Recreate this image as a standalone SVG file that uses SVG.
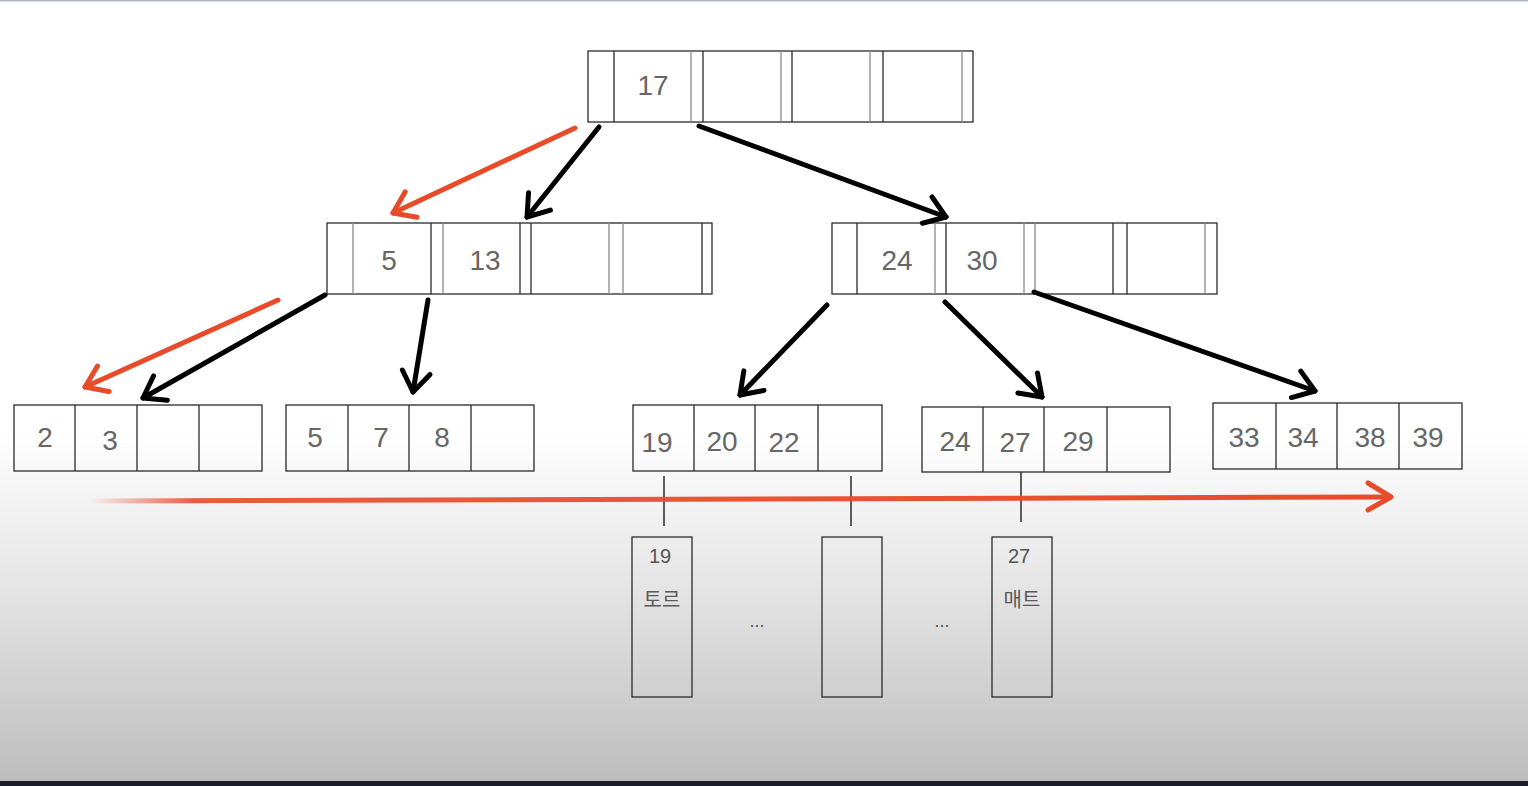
<svg xmlns="http://www.w3.org/2000/svg" width="1528" height="786" viewBox="0 0 1528 786">
<defs>
<linearGradient id="bg" x1="0" y1="0" x2="0" y2="786" gradientUnits="userSpaceOnUse">
<stop offset="0" stop-color="#ffffff"/>
<stop offset="0.55" stop-color="#ffffff"/>
<stop offset="0.75" stop-color="#e4e4e4"/>
<stop offset="1" stop-color="#bcbcbc"/>
</linearGradient>
<linearGradient id="redfade" x1="90" y1="0" x2="1392" y2="0" gradientUnits="userSpaceOnUse">
<stop offset="0" stop-color="#e84b2a" stop-opacity="0"/>
<stop offset="0.08" stop-color="#e84b2a" stop-opacity="0.9"/>
<stop offset="1" stop-color="#e84b2a"/>
</linearGradient>
<marker id="chevK" markerUnits="userSpaceOnUse" markerWidth="40" markerHeight="40" viewBox="-24 -20 28 40" refX="0" refY="0" orient="auto">
<path d="M-20,-14 L0,0 L-20,14" fill="none" stroke="#000" stroke-width="5" stroke-linecap="round" stroke-linejoin="round"/>
</marker>
<marker id="chevR" markerUnits="userSpaceOnUse" markerWidth="40" markerHeight="40" viewBox="-24 -20 28 40" refX="0" refY="0" orient="auto">
<path d="M-20,-14 L0,0 L-20,14" fill="none" stroke="#e84b2a" stroke-width="5" stroke-linecap="round" stroke-linejoin="round"/>
</marker>
</defs>
<style>
.box{fill:none;stroke:#2a2a2a;stroke-width:1.3}
.sep{stroke:#2a2a2a;stroke-width:1.3}
.sepg{stroke:#8a8a8a;stroke-width:1.3}
.key{font-family:"Liberation Sans",Arial,sans-serif;font-size:28px;fill:#666666;text-anchor:middle}
.rec{font-family:"Liberation Sans","Noto Sans CJK KR",sans-serif;font-size:20px;fill:#555555;text-anchor:middle}
.ko{font-family:"Noto Sans CJK KR","Noto Sans",sans-serif;font-size:20px;fill:#5a5a5a;text-anchor:middle}
.dots{font-family:"Liberation Sans",Arial,sans-serif;font-size:18px;fill:#555;text-anchor:middle}
.blk{stroke:#000;stroke-width:5;stroke-linecap:round;fill:none}
.red{stroke:#e84b2a;stroke-width:5;stroke-linecap:round;fill:none}
.tick{stroke:#2a2a2a;stroke-width:1.5}
</style>
<rect x="0" y="0" width="1528" height="786" fill="url(#bg)"/>
<rect x="0" y="0" width="1528" height="1.5" fill="#b4b8c0"/>
<rect x="0" y="781" width="1528" height="5" fill="#1b1d2b"/>

<g id="root">
<rect class="box" x="588" y="51" width="385" height="71"/>
<line class="sep" x1="614" y1="51" x2="614" y2="122"/>
<line class="sepg" x1="691" y1="51" x2="691" y2="122"/>
<line class="sep" x1="703" y1="51" x2="703" y2="122"/>
<line class="sepg" x1="781" y1="51" x2="781" y2="122"/>
<line class="sep" x1="792" y1="51" x2="792" y2="122"/>
<line class="sepg" x1="870" y1="51" x2="870" y2="122"/>
<line class="sep" x1="883" y1="51" x2="883" y2="122"/>
<line class="sepg" x1="962" y1="51" x2="962" y2="122"/>
<text class="key" x="653" y="95">17</text>
</g>

<g id="inner-left">
<rect class="box" x="327" y="223" width="385" height="71"/>
<line class="sepg" x1="353" y1="223" x2="353" y2="294"/>
<line class="sep" x1="431" y1="223" x2="431" y2="294"/>
<line class="sepg" x1="443" y1="223" x2="443" y2="294"/>
<line class="sep" x1="520" y1="223" x2="520" y2="294"/>
<line class="sep" x1="531" y1="223" x2="531" y2="294"/>
<line class="sepg" x1="609" y1="223" x2="609" y2="294"/>
<line class="sepg" x1="623" y1="223" x2="623" y2="294"/>
<line class="sep" x1="702" y1="223" x2="702" y2="294"/>
<text class="key" x="389" y="270">5</text>
<text class="key" x="485" y="270">13</text>
</g>

<g id="inner-right">
<rect class="box" x="832" y="223" width="385" height="71"/>
<line class="sep" x1="857" y1="223" x2="857" y2="294"/>
<line class="sepg" x1="935" y1="223" x2="935" y2="294"/>
<line class="sep" x1="946" y1="223" x2="946" y2="294"/>
<line class="sepg" x1="1024" y1="223" x2="1024" y2="294"/>
<line class="sepg" x1="1035" y1="223" x2="1035" y2="294"/>
<line class="sep" x1="1113" y1="223" x2="1113" y2="294"/>
<line class="sep" x1="1127" y1="223" x2="1127" y2="294"/>
<line class="sepg" x1="1205" y1="223" x2="1205" y2="294"/>
<text class="key" x="897" y="270">24</text>
<text class="key" x="982" y="270">30</text>
</g>

<g id="leaf-1">
<rect class="box" x="14" y="405" width="248" height="66"/>
<line class="sep" x1="75" y1="405" x2="75" y2="471"/>
<line class="sep" x1="137" y1="405" x2="137" y2="471"/>
<line class="sep" x1="199" y1="405" x2="199" y2="471"/>
<text class="key" x="45" y="447">2</text>
<text class="key" x="110" y="450">3</text>
</g>

<g id="leaf-2">
<rect class="box" x="286" y="405" width="248" height="66"/>
<line class="sep" x1="348" y1="405" x2="348" y2="471"/>
<line class="sep" x1="409" y1="405" x2="409" y2="471"/>
<line class="sep" x1="471" y1="405" x2="471" y2="471"/>
<text class="key" x="315" y="447">5</text>
<text class="key" x="381" y="447">7</text>
<text class="key" x="442" y="447">8</text>
</g>

<g id="leaf-3">
<rect class="box" x="633" y="405" width="249" height="66"/>
<line class="sep" x1="694" y1="405" x2="694" y2="471"/>
<line class="sep" x1="755" y1="405" x2="755" y2="471"/>
<line class="sep" x1="818" y1="405" x2="818" y2="471"/>
<text class="key" x="657" y="452">19</text>
<text class="key" x="722" y="451">20</text>
<text class="key" x="784" y="452">22</text>
</g>

<g id="leaf-4">
<rect class="box" x="922" y="407" width="248" height="65"/>
<line class="sep" x1="983" y1="407" x2="983" y2="472"/>
<line class="sep" x1="1044" y1="407" x2="1044" y2="472"/>
<line class="sep" x1="1107" y1="407" x2="1107" y2="472"/>
<text class="key" x="955" y="451">24</text>
<text class="key" x="1015" y="452">27</text>
<text class="key" x="1078" y="451">29</text>
</g>

<g id="leaf-5">
<rect class="box" x="1213" y="403" width="249" height="66"/>
<line class="sep" x1="1276" y1="403" x2="1276" y2="469"/>
<line class="sep" x1="1337" y1="403" x2="1337" y2="469"/>
<line class="sep" x1="1399" y1="403" x2="1399" y2="469"/>
<text class="key" x="1244" y="447">33</text>
<text class="key" x="1303" y="447">34</text>
<text class="key" x="1370" y="447">38</text>
<text class="key" x="1428" y="447">39</text>
</g>

<g id="record-19">
<rect class="box" x="632" y="537" width="60" height="160"/>
<text class="rec" x="660" y="563">19</text>
<text class="ko" x="662" y="607">토르</text>
</g>

<g id="record-mid">
<rect class="box" x="822" y="537" width="60" height="160"/>
</g>

<g id="record-27">
<rect class="box" x="992" y="537" width="60" height="160"/>
<text class="rec" x="1019" y="563">27</text>
<text class="ko" x="1022" y="607">매트</text>
</g>

<g id="ellipses">
<text class="dots" x="757" y="627">...</text>
<text class="dots" x="942" y="627">...</text>
</g>

<g id="connectors">
<line class="tick" x1="664" y1="476" x2="664" y2="526"/>
<line class="tick" x1="851" y1="476" x2="851" y2="526"/>
<line class="tick" x1="1021" y1="472" x2="1021" y2="522"/>
<line class="red" x1="575" y1="128" x2="393" y2="213" marker-end="url(#chevR)"/>
<line class="blk" x1="599" y1="127" x2="527" y2="217" marker-end="url(#chevK)"/>
<line class="blk" x1="699" y1="126" x2="946" y2="217" marker-end="url(#chevK)"/>
<line class="red" x1="278" y1="300" x2="85" y2="387" marker-end="url(#chevR)"/>
<line class="blk" x1="325" y1="295" x2="143" y2="398" marker-end="url(#chevK)"/>
<line class="blk" x1="428" y1="300" x2="413" y2="392" marker-end="url(#chevK)"/>
<line class="blk" x1="827" y1="305" x2="740" y2="395" marker-end="url(#chevK)"/>
<line class="blk" x1="945" y1="302" x2="1042" y2="397" marker-end="url(#chevK)"/>
<line class="blk" x1="1034" y1="292" x2="1315" y2="391" marker-end="url(#chevK)"/>
<line x1="90" y1="501" x2="1390" y2="497" stroke="url(#redfade)" stroke-width="5" stroke-linecap="round"/>
<path d="M1368,483 L1391,497 L1368,510" fill="none" stroke="#e84b2a" stroke-width="5" stroke-linecap="round" stroke-linejoin="round"/>
</g>
</svg>
